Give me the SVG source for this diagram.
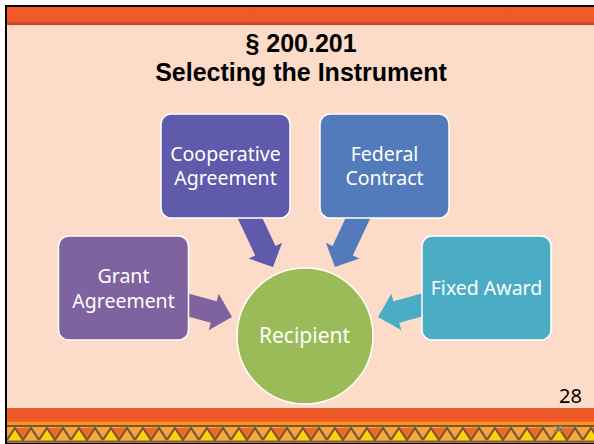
<svg xmlns="http://www.w3.org/2000/svg" width="594" height="444" viewBox="0 0 594 444">
  <defs>
    <style>
      .title { font-family: "Liberation Sans", Arial, sans-serif; font-weight: bold; font-size: 25px; fill: #000; text-anchor: middle; }
      .box { stroke: #ffffff; stroke-width: 1.5; }
      .lbl { font-family: "Noto Sans", "Open Sans", sans-serif; font-size: 19.5px; fill: #ffffff; text-anchor: middle; }
      .big { font-size: 21px; }
      .pg { font-family: "Noto Sans", "Open Sans", sans-serif; font-size: 20px; fill: #000; text-anchor: end; }
      .pgs { font-family: "Liberation Sans", Arial, sans-serif; font-size: 8.5px; fill: #9a8a80; text-anchor: middle; font-weight: bold; }
    </style>
    <linearGradient id="topbar" x1="0" y1="0" x2="0" y2="1">
      <stop offset="0" stop-color="#F15A29"/>
      <stop offset="0.75" stop-color="#EF5828"/>
      <stop offset="1" stop-color="#B8441F"/>
    </linearGradient>
    <pattern id="zz" x="7" y="427" width="32" height="14" patternUnits="userSpaceOnUse">
      <rect width="32" height="14" fill="#F7A13A"/>
      <polygon points="8,1 16,13 24,1" fill="#EE6A2A"/>
      <polygon points="0,13 8,1 16,13" fill="#FFD400"/>
      <polygon points="16,13 24,1 32,13" fill="#F9A83E"/>
      <polyline points="0,13 8,1 16,13 24,1 32,13" fill="none" stroke="#7D5535" stroke-width="2.2" stroke-linejoin="miter"/>
    </pattern>
    <polygon id="arrowShape" points="-54,-11.2 -19,-11.2 -19,-19 0,0 -19,19 -19,11.2 -54,11.2"/>
    <polygon id="arrowShapeV" points="-62,-11.2 -18,-11.2 -18,-18.5 0,0 -18,18.5 -18,11.2 -62,11.2"/>
  </defs>

  <!-- frame and background -->
  <rect x="0" y="0" width="594" height="444" fill="#ffffff"/>
  <rect x="5" y="5" width="589" height="439" fill="#000000"/>
  <rect x="7" y="7" width="587" height="436" fill="#FCDCC9"/>

  <!-- top bar -->
  <rect x="7" y="7" width="587" height="18" fill="url(#topbar)"/>

  <!-- bottom band -->
  <rect x="7" y="408" width="587" height="1.2" fill="#D2603A"/>
  <rect x="7" y="409" width="587" height="13" fill="#EF5A28"/>
  <rect x="7" y="421.7" width="587" height="3.5" fill="#F7941D"/>
  <rect x="7" y="425" width="587" height="2" fill="#7D5535"/>
  <rect x="7" y="427" width="587" height="14" fill="url(#zz)"/>
  <rect x="7" y="440.7" width="587" height="2" fill="#7D5535"/>
  <text class="pgs" x="558" y="432">28</text>

  <!-- title -->
  <text class="title" x="301" y="52">§ 200.201</text>
  <text class="title" x="301" y="81">Selecting the Instrument</text>

  <!-- connectors -->
  <g id="connectors">
    <use href="#arrowShapeV" fill="#5F5AAC" transform="translate(273,267) rotate(64.86)"/>
    <use href="#arrowShapeV" fill="#537BBC" transform="translate(335,267) rotate(115.14)"/>
    <use href="#arrowShape" fill="#7F63A1" transform="translate(232,317) rotate(15.26)"/>
    <use href="#arrowShape" fill="#4BACC6" transform="translate(378,317) rotate(164.74)"/>
  </g>

  <!-- nodes -->
  <g id="node-cooperative">
    <rect class="box" x="161" y="114" width="129" height="104" rx="10" fill="#5F5AAC"/>
    <text class="lbl" x="225.5" y="160.5">Cooperative</text>
    <text class="lbl" x="225.5" y="185">Agreement</text>
  </g>
  <g id="node-federal">
    <rect class="box" x="320" y="114" width="129" height="104" rx="10" fill="#537BBC"/>
    <text class="lbl" x="384.5" y="160.5">Federal</text>
    <text class="lbl" x="384.5" y="185">Contract</text>
  </g>
  <g id="node-grant">
    <rect class="box" x="58.5" y="236" width="130" height="104" rx="10" fill="#7F63A1"/>
    <text class="lbl" x="123.5" y="283">Grant</text>
    <text class="lbl" x="123.5" y="308">Agreement</text>
  </g>
  <g id="node-fixed">
    <rect class="box" x="422" y="236" width="129" height="104" rx="10" fill="#4BACC6"/>
    <text class="lbl" x="486.5" y="294.5">Fixed Award</text>
  </g>
  <g id="node-recipient">
    <circle class="box" cx="305" cy="336" r="68" fill="#9BBB59"/>
    <text class="lbl big" x="304.5" y="343">Recipient</text>
  </g>

  <!-- page number -->
  <text class="pg" x="582" y="403">28</text>
</svg>
